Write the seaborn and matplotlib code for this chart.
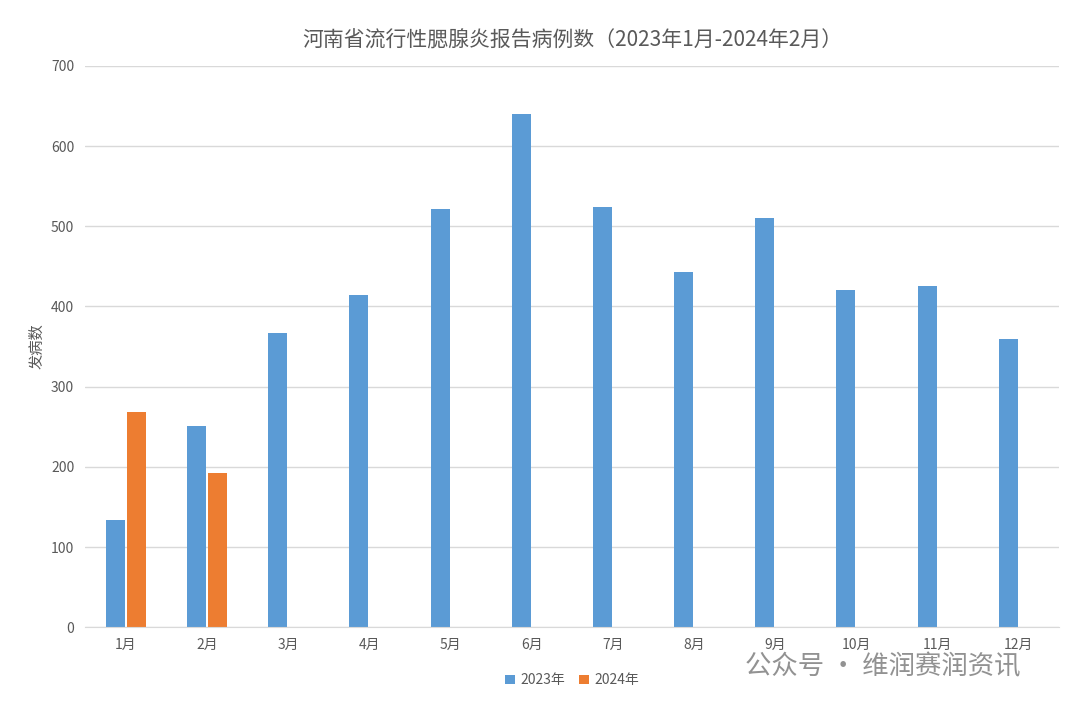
import pandas as pd
import matplotlib.pyplot as plt
import seaborn as sns

months = ['1月', '2月', '3月', '4月', '5月', '6月', '7月', '8月', '9月', '10月', '11月', '12月']
cases_2023 = [134, 251, 367, 414, 521, 640, 524, 443, 510, 420, 426, 360]
cases_2024 = [269, 192] + [None] * 10

df = pd.DataFrame({
    'month': months * 2,
    'year': ['2023年'] * 12 + ['2024年'] * 12,
    'cases': cases_2023 + cases_2024,
})

sns.set_style('white')
plt.rcParams['font.family'] = ['Noto Sans CJK SC', 'DejaVu Sans']

fig = plt.figure(figsize=(10.8, 7.08), dpi=100)
ax = fig.add_axes([0.079, 0.114, 0.902, 0.793])
sns.barplot(data=df, x='month', y='cases', hue='year', order=months,
            palette=['#5b9bd5', '#ed7d31'], saturation=1, linewidth=0,
            width=0.52, gap=0.1, ax=ax)

ax.set_ylim(0, 700)
ax.set_yticks(range(0, 701, 100))
ax.yaxis.grid(True, color='#d9d9d9', linewidth=1)
ax.set_axisbelow(True)
for s in ['top', 'right', 'left']:
    ax.spines[s].set_visible(False)
ax.spines['bottom'].set_color('#d9d9d9')
ax.tick_params(axis='both', length=0, labelsize=10, colors='#595959', pad=8)
ax.set_xlabel('')
ax.set_ylabel('发病数', fontsize=11, color='#595959')
ax.set_title('河南省流行性腮腺炎报告病例数（2023年1月-2024年2月）', fontsize=15, color='#595959', pad=14)

ax.legend(loc='upper center', bbox_to_anchor=(0.5, -0.06), ncol=2, frameon=False,
          fontsize=10, handlelength=0.7, handleheight=0.7, columnspacing=1.0,
          handletextpad=0.4, labelcolor='#595959')

fig.text(0.69, 0.048, '公众号 · 维润赛润资讯', fontsize=19, color='#7f7f7f', alpha=0.85)

fig.savefig('out.png', dpi=100)
